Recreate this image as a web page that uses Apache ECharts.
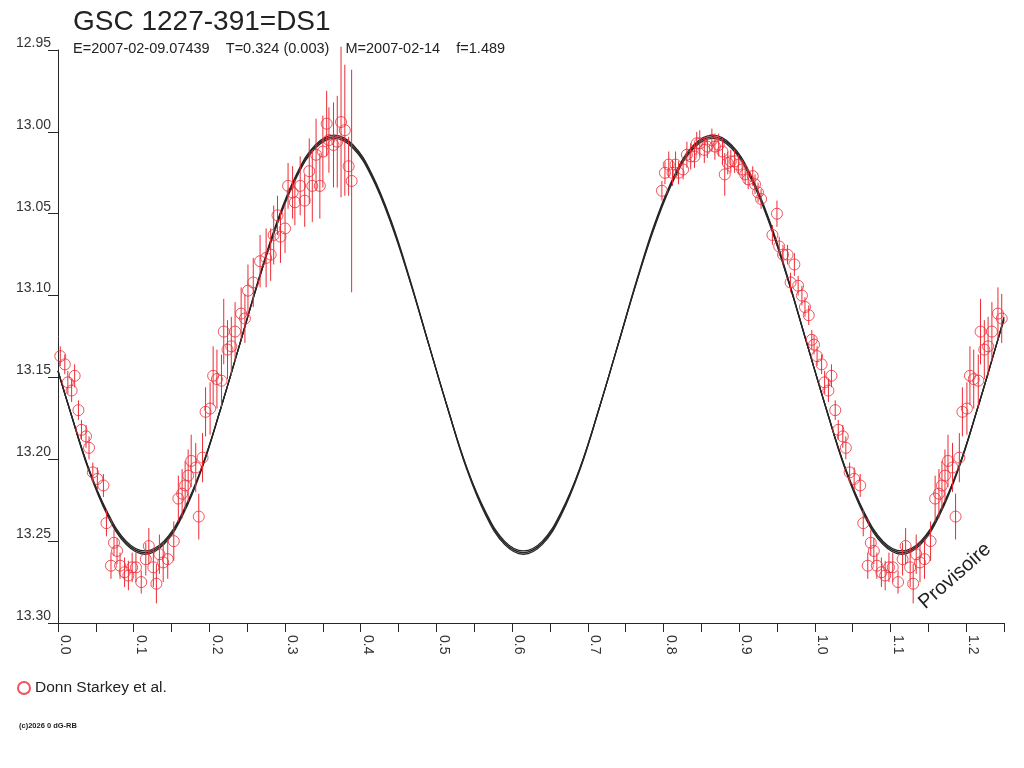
<!DOCTYPE html>
<html>
<head>
<meta charset="utf-8">
<script src="https://cdn.jsdelivr.net/npm/echarts@6/dist/echarts.min.js"></script>
<style>
  html, body { margin: 0; padding: 0; background: #fff; }
  #chart { width: 1024px; height: 768px; }
</style>
</head>
<body>
<div id="chart"></div>
<script>
var obsPhase = [
  0.003, 0.009, 0.013, 0.018, 0.022, 0.027, 0.031, 0.037, 0.041, 0.046,
  0.052, 0.060, 0.064, 0.070, 0.074, 0.078, 0.082, 0.088, 0.093, 0.098,
  0.103, 0.110, 0.116, 0.120, 0.126, 0.130, 0.134, 0.139, 0.145, 0.153,
  0.159, 0.164, 0.168, 0.172, 0.176, 0.182, 0.186, 0.191, 0.195, 0.201,
  0.205, 0.210, 0.216, 0.219, 0.224, 0.229, 0.234, 0.242, 0.247, 0.251,
  0.258, 0.267, 0.275, 0.281, 0.285, 0.290, 0.294, 0.300, 0.304, 0.310,
  0.313, 0.320, 0.326, 0.332, 0.336, 0.341, 0.346, 0.350, 0.355, 0.358,
  0.364, 0.369, 0.374, 0.379, 0.384, 0.388,
  0.798, 0.802, 0.807, 0.812, 0.816, 0.820, 0.826, 0.831, 0.836, 0.841,
  0.844, 0.848, 0.854, 0.858, 0.864, 0.868, 0.873, 0.878, 0.881, 0.885,
  0.889, 0.894, 0.899, 0.904, 0.908, 0.912, 0.918, 0.921, 0.925, 0.929,
  0.944, 0.950, 0.953, 0.958, 0.964, 0.968, 0.973, 0.978, 0.983, 0.987,
  0.992, 0.996, 0.999
];
var obsMag = [
  13.137, 13.142, 13.153, 13.158, 13.149, 13.170, 13.182, 13.186, 13.193, 13.208,
  13.212, 13.216, 13.239, 13.265, 13.251, 13.256, 13.265, 13.269, 13.271, 13.266,
  13.266, 13.275, 13.261, 13.253, 13.266, 13.276, 13.258, 13.263, 13.261, 13.250,
  13.224, 13.221, 13.216, 13.210, 13.201, 13.205, 13.235, 13.199, 13.171, 13.169,
  13.149, 13.151, 13.152, 13.122, 13.133, 13.131, 13.122, 13.111, 13.114, 13.097,
  13.092, 13.079, 13.077, 13.075, 13.063, 13.051, 13.064, 13.059, 13.033, 13.037,
  13.043, 13.033, 13.042, 13.024, 13.033, 13.014, 13.033, 13.012, 12.995, 13.005,
  13.008, 13.006, 12.994, 12.999, 13.021, 13.030,
  13.036, 13.025, 13.020, 13.025, 13.020, 13.025, 13.023, 13.014, 13.015, 13.015,
  13.007, 13.007, 13.011, 13.009, 13.005, 13.009, 13.008, 13.012, 13.026, 13.019,
  13.018, 13.018, 13.020, 13.023, 13.026, 13.029, 13.027, 13.032, 13.037, 13.041,
  13.063, 13.050, 13.070, 13.075, 13.075, 13.092, 13.081, 13.094, 13.100, 13.107,
  13.112, 13.127, 13.130
];
var obsErr = [
  0.006, 0.006, 0.007, 0.007, 0.007, 0.006, 0.006, 0.007, 0.007, 0.006,
  0.007, 0.007, 0.008, 0.008, 0.008, 0.008, 0.008, 0.009, 0.009, 0.009,
  0.009, 0.007, 0.010, 0.011, 0.012, 0.012, 0.012, 0.012, 0.012, 0.012,
  0.014, 0.015, 0.015, 0.016, 0.016, 0.015, 0.014, 0.015, 0.015, 0.016,
  0.018, 0.018, 0.016, 0.020, 0.018, 0.018, 0.018, 0.016, 0.015, 0.016,
  0.015, 0.016, 0.018, 0.016, 0.018, 0.012, 0.016, 0.015, 0.014, 0.016,
  0.014, 0.018, 0.016, 0.020, 0.022, 0.022, 0.020, 0.022, 0.020, 0.020,
  0.026, 0.028, 0.046, 0.040, 0.018, 0.068,
  0.006, 0.007, 0.008, 0.008, 0.008, 0.007, 0.006, 0.008, 0.008, 0.007,
  0.007, 0.008, 0.008, 0.007, 0.007, 0.008, 0.007, 0.008, 0.013, 0.007,
  0.007, 0.007, 0.006, 0.006, 0.006, 0.006, 0.006, 0.006, 0.006, 0.006,
  0.006, 0.008, 0.006, 0.006, 0.006, 0.006, 0.007, 0.006, 0.006, 0.006,
  0.006, 0.006, 0.006
];

// fitted light curves (three close solutions)
var curvePhase = [
  0.000,
  0.015, 0.040, 0.065, 0.090, 0.115, 0.140, 0.165, 0.190, 0.215, 0.240,
  0.265, 0.290, 0.315, 0.340, 0.365, 0.390, 0.415, 0.440, 0.465, 0.490,
  0.515, 0.540, 0.565, 0.590, 0.615, 0.640, 0.665, 0.690, 0.715, 0.740,
  0.765, 0.790, 0.815, 0.840, 0.865, 0.890, 0.915, 0.940, 0.965, 0.990,
  1.015, 1.040, 1.065, 1.090, 1.115, 1.140, 1.165, 1.190, 1.215, 1.240,
  1.250
];
var curveA = [
  13.146,
  13.169, 13.205, 13.233, 13.251, 13.257, 13.251, 13.233, 13.205, 13.169, 13.130,
  13.091, 13.055, 13.027, 13.009, 13.003, 13.009, 13.027, 13.055, 13.091, 13.130,
  13.169, 13.205, 13.233, 13.251, 13.257, 13.251, 13.233, 13.205, 13.169, 13.130,
  13.091, 13.055, 13.027, 13.009, 13.003, 13.009, 13.027, 13.055, 13.091, 13.130,
  13.169, 13.205, 13.233, 13.251, 13.257, 13.251, 13.233, 13.205, 13.169, 13.130,
  13.114
];
var curveB = [
  13.146,
  13.169, 13.206, 13.234, 13.252, 13.258, 13.252, 13.234, 13.206, 13.169, 13.130,
  13.090, 13.054, 13.026, 13.008, 13.002, 13.008, 13.026, 13.054, 13.090, 13.130,
  13.169, 13.206, 13.234, 13.252, 13.258, 13.252, 13.234, 13.206, 13.169, 13.130,
  13.090, 13.054, 13.026, 13.008, 13.002, 13.008, 13.026, 13.054, 13.090, 13.130,
  13.169, 13.206, 13.234, 13.252, 13.258, 13.252, 13.234, 13.206, 13.169, 13.130,
  13.113
];
var curveC = [
  13.146,
  13.169, 13.205, 13.232, 13.250, 13.256, 13.250, 13.232, 13.205, 13.169, 13.130,
  13.091, 13.056, 13.028, 13.010, 13.004, 13.010, 13.028, 13.056, 13.091, 13.130,
  13.169, 13.205, 13.232, 13.250, 13.256, 13.250, 13.232, 13.205, 13.169, 13.130,
  13.091, 13.056, 13.028, 13.010, 13.004, 13.010, 13.028, 13.056, 13.091, 13.130,
  13.169, 13.205, 13.232, 13.250, 13.256, 13.250, 13.232, 13.205, 13.169, 13.130,
  13.115
];

var yTicks = [12.95, 13.00, 13.05, 13.10, 13.15, 13.20, 13.25, 13.30];

var RED = '#ec2a34';
var INK = '#262626';
var FONT = 'Liberation Sans';

// points are shown once more one phase later, up to 1.25
var points = [];
var bars = [];
for (var i = 0; i < obsPhase.length; i++) {
  var reps = [obsPhase[i]];
  if (obsPhase[i] + 1 <= 1.25) reps.push(obsPhase[i] + 1);
  for (var j = 0; j < reps.length; j++) {
    points.push([reps[j], obsMag[i]]);
    bars.push([reps[j], obsMag[i] - obsErr[i], obsMag[i] + obsErr[i]]);
  }
}

function curveData(vals) {
  var d = [];
  for (var k = 0; k < curvePhase.length; k++) d.push([curvePhase[k], vals[k]]);
  return d;
}

function curveSeries(vals) {
  return {
    type: 'line',
    data: curveData(vals),
    smooth: 0.4,
    showSymbol: false,
    silent: true,
    z: 2,
    lineStyle: { color: INK, width: 1.3 }
  };
}

var chart = echarts.init(document.getElementById('chart'), null, { renderer: 'canvas' });

chart.setOption({
  animation: false,
  backgroundColor: '#ffffff',
  grid: { left: 58, right: 20, top: 50, bottom: 145, containLabel: false },
  xAxis: {
    type: 'value',
    min: 0,
    max: 1.25,
    interval: 0.05,
    splitLine: { show: false },
    axisLine: { lineStyle: { color: INK, width: 1 } },
    axisTick: { show: true, length: 9, lineStyle: { color: INK } },
    axisLabel: {
      rotate: -90,
      margin: 12,
      color: '#333',
      fontFamily: FONT,
      fontSize: 14,
      verticalAlign: 'bottom',
      formatter: function (v) {
        return Math.round(v * 100) % 10 === 0 ? v.toFixed(1) : '';
      }
    }
  },
  yAxis: {
    type: 'value',
    inverse: true,
    min: yTicks[0],
    max: yTicks[yTicks.length - 1],
    interval: 0.05,
    splitLine: { show: false },
    axisLine: { show: true, lineStyle: { color: INK, width: 1 } },
    axisTick: { show: true, length: 10, lineStyle: { color: INK } },
    axisLabel: {
      margin: 7,
      color: '#333',
      fontFamily: FONT,
      fontSize: 14,
      verticalAlign: 'bottom',
      formatter: function (v) { return v.toFixed(2); }
    }
  },
  legend: {
    data: ['Donn Starkey et al.'],
    left: 12,
    top: 675,
    itemWidth: 12,
    itemHeight: 12,
    itemGap: 4,
    textStyle: { color: '#222', fontFamily: FONT, fontSize: 15.5, padding: [0, 0, 0, 0] }
  },
  graphic: [
    {
      type: 'text', left: 73, top: 8,
      style: { text: 'GSC 1227-391=DS1', fill: '#222', font: '28px "Liberation Sans"' }
    },
    {
      type: 'text', left: 73, top: 41,
      style: {
        text: 'E=2007-02-09.07439    T=0.324 (0.003)    M=2007-02-14    f=1.489',
        fill: '#222', font: '14.5px "Liberation Sans"'
      }
    },
    {
      type: 'text', x: 955, y: 576, rotation: 41.5 * Math.PI / 180,
      style: {
        text: 'Provisoire', fill: '#222', font: '20px "Liberation Sans"',
        align: 'center', verticalAlign: 'middle'
      }
    },
    {
      type: 'text', left: 19, top: 722,
      style: { text: '(c)2026 0 dG-RB', fill: '#222', font: 'bold 7.5px "Liberation Sans"' }
    }
  ],
  series: [
    curveSeries(curveA),
    curveSeries(curveB),
    curveSeries(curveC),
    {
      type: 'custom',
      name: 'err',
      data: bars,
      z: 3,
      silent: true,
      renderItem: function (params, api) {
        var p1 = api.coord([api.value(0), api.value(1)]);
        var p2 = api.coord([api.value(0), api.value(2)]);
        return {
          type: 'line',
          shape: { x1: p1[0], y1: p1[1], x2: p2[0], y2: p2[1] },
          style: { stroke: RED, lineWidth: 1 }
        };
      }
    },
    {
      type: 'scatter',
      name: 'Donn Starkey et al.',
      data: points,
      z: 4,
      symbol: 'circle',
      symbolSize: 11,
      itemStyle: { color: 'rgba(255,255,255,0)', borderColor: RED, borderWidth: 1 }
    }
  ]
});
</script>
</body>
</html>
